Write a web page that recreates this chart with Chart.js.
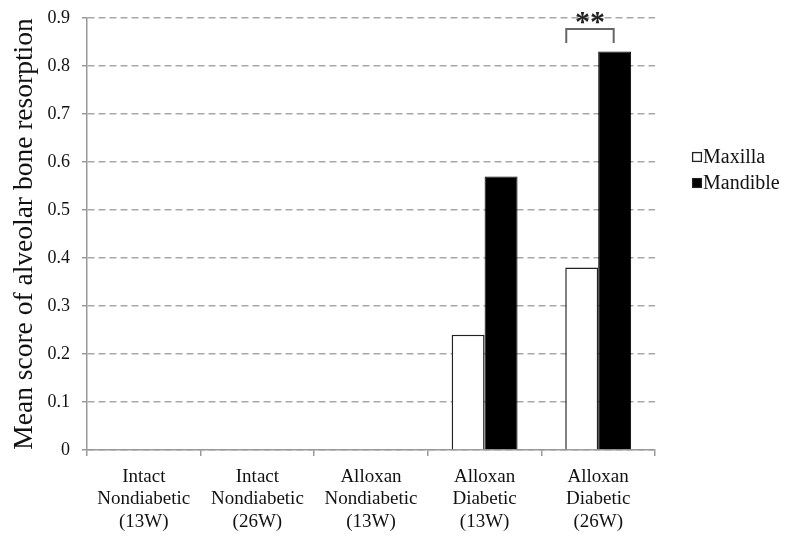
<!DOCTYPE html>
<html>
<head>
<meta charset="utf-8">
<script src="https://cdn.jsdelivr.net/npm/chart.js@4"></script>
<style>
  html, body { margin: 0; padding: 0; background: #fff; }
  #wrap { width: 787px; height: 537px; }
</style>
</head>
<body>
<div id="wrap"><canvas id="chart"></canvas></div>
<script>
var groups = [
  ['Intact', 'Nondiabetic', '(13W)'],
  ['Intact', 'Nondiabetic', '(26W)'],
  ['Alloxan', 'Nondiabetic', '(13W)'],
  ['Alloxan', 'Diabetic', '(13W)'],
  ['Alloxan', 'Diabetic', '(26W)']
]
var maxilla = [0, 0, 0, 0.24, 0.38]
var mandible = [0, 0, 0, 0.57, 0.83]
var yTicks = [0, 0.1, 0.2, 0.3, 0.4, 0.5, 0.6, 0.7, 0.8, 0.9]

var serif = '"Liberation Serif", "DejaVu Serif", serif'

// legend on the right, small squares next to the names
var sideLegend = {
  id: 'sideLegend',
  afterDraw: function(chart) {
    var ctx = chart.ctx
    var x = 692, y = 157
    ctx.save()
    ctx.font = '20px ' + serif
    ctx.textBaseline = 'alphabetic'
    chart.data.datasets.forEach(function(ds, i) {
      var yy = y + i * 26
      ctx.fillStyle = ds.backgroundColor
      ctx.fillRect(x, yy - 5, 10, 10)
      ctx.strokeStyle = '#222'
      ctx.lineWidth = 1.3
      ctx.strokeRect(x + 0.6, yy - 4.4, 8.8, 8.8)
      ctx.fillStyle = '#111'
      ctx.fillText(ds.label, x + 11, yy + 6)
    })
    ctx.restore()
  }
}

// ** bracket over the last pair of bars
var sigMark = {
  id: 'sigMark',
  afterDatasetsDraw: function(chart) {
    var ctx = chart.ctx
    var a = chart.getDatasetMeta(0).data[4]
    var b = chart.getDatasetMeta(1).data[4]
    var left = a.x - a.width / 2 + 1
    var right = b.x - 1
    var top = chart.scales.y.getPixelForValue(0.877)
    var bottom = top + 14
    ctx.save()
    ctx.strokeStyle = '#666'
    ctx.lineWidth = 2
    ctx.beginPath()
    ctx.moveTo(left, bottom)
    ctx.lineTo(left, top)
    ctx.lineTo(right, top)
    ctx.lineTo(right, bottom)
    ctx.stroke()
    ctx.fillStyle = '#222'
    ctx.font = 'bold 30px ' + serif
    ctx.textAlign = 'center'
    ctx.textBaseline = 'alphabetic'
    ctx.fillText('**', (left + right) / 2, top + 2)
    ctx.restore()
  }
}

new Chart(document.getElementById('chart'), {
  type: 'bar',
  data: {
    labels: groups,
    datasets: [
      {
        label: 'Maxilla',
        data: maxilla,
        backgroundColor: '#ffffff',
        borderColor: '#222',
        borderWidth: 1.5
      },
      {
        label: 'Mandible',
        data: mandible,
        backgroundColor: '#000000',
        borderColor: '#000',
        borderWidth: 1
      }
    ]
  },
  options: {
    responsive: true,
    maintainAspectRatio: false,
    animation: false,
    datasets: { bar: { categoryPercentage: 0.58, barPercentage: 1.0 } },
    layout: { padding: { top: 18, right: 132, left: 0, bottom: 0 } },
    plugins: {
      legend: { display: false },
      tooltip: { enabled: false }
    },
    scales: {
      x: {
        offset: true,
        afterFit: function(scale) { scale.height = 87 },
        grid: { offset: true, drawOnChartArea: false, color: '#999', lineWidth: 1.5, tickLength: 6 },
        border: { color: '#999', width: 1.5 },
        ticks: {
          color: '#111',
          font: { family: serif, size: 19, lineHeight: 1.17 },
          padding: 10,
          maxRotation: 0
        }
      },
      y: {
        min: 0,
        max: 0.9,
        afterBuildTicks: function(scale) {
          scale.ticks = yTicks.map(function(v) { return { value: v } })
        },
        afterFit: function(scale) {
          scale.width = 87
          scale.paddingTop = 0
          scale.paddingBottom = 0
        },
        grid: { color: '#a8a8a8', lineWidth: 1.5, tickLength: 5, tickColor: '#999' },
        border: { color: '#999', width: 1.5, dash: [7, 4] },
        ticks: {
          color: '#111',
          font: { family: serif, size: 18 },
          padding: 12,
          callback: function(v) { return v === 0 ? '0' : v.toFixed(1) }
        },
        title: {
          display: true,
          text: 'Mean score of alveolar bone resorption',
          color: '#111',
          font: { family: serif, size: 27.5 },
          padding: { top: 8, bottom: 0 }
        }
      }
    }
  },
  plugins: [sideLegend, sigMark]
})
</script>
</body>
</html>
